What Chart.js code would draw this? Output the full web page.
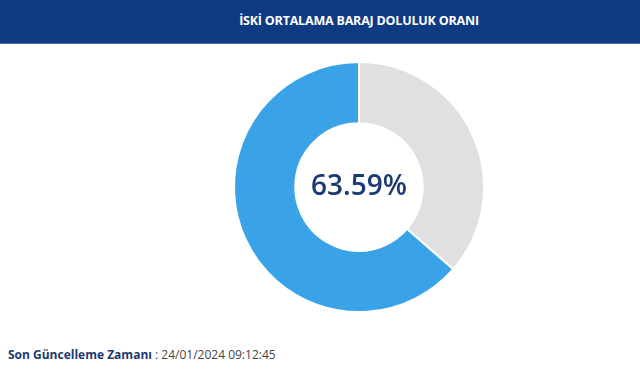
<meta charset="UTF-8">
<style>
  body { margin: 0; width: 640px; height: 380px; background: #fff; font-family: "Open Sans", "Noto Sans", sans-serif; overflow: hidden; }
  .header { position: absolute; left: 0; top: 0; width: 640px; height: 44px; background: #0f3b82; border-bottom: 1px solid #4a6aa0; box-sizing: border-box; }
  .header span { position: absolute; left: 0; width: 718px; top: 12px; text-align: center; color: #fff; font-weight: 700; font-size: 12.5px; letter-spacing: -0.2px; }
  .chart-box { position: absolute; left: 0; top: 44px; width: 640px; height: 286px; }
  .footer { position: absolute; left: 8px; top: 346px; font-size: 12px; color: #444; }
  .footer b { color: #1b3a6e; }
</style>

<div class="header"><span>İSKİ ORTALAMA BARAJ DOLULUK ORANI</span></div>
<div class="chart-box">
  <canvas id="myChart"></canvas>
</div>
<div class="footer"><b>Son Güncelleme Zamanı</b> : 24/01/2024 09:12:45</div>

<script src="https://cdn.jsdelivr.net/npm/chart.js@4.3.0/dist/chart.umd.min.js"></script>

<script>
  const labels = ['Boş', 'Dolu'];
  const values = [36.41, 63.59];
  const colors = ['#e0e0e0', '#3aa3e8'];
  const centerLabel = '63.59%';

  // draws the percentage in the middle of the ring
  const centerText = {
    id: 'centerText',
    afterDraw(chart) {
      const meta = chart.getDatasetMeta(0).data[0];
      const c = chart.ctx;
      c.save();
      c.font = '600 28px "Open Sans", sans-serif';
      c.fillStyle = '#1b3a75';
      c.textAlign = 'center';
      c.textBaseline = 'middle';
      c.fillText(centerLabel, meta.x, meta.y);
      c.restore();
    }
  };

  new Chart(document.getElementById('myChart'), {
    type: 'doughnut',
    data: {
      labels: labels,
      datasets: [{
        data: values,
        backgroundColor: colors,
        borderColor: '#ffffff',
        borderWidth: 2,
        hoverOffset: 0,
      }]
    },
    options: {
      responsive: true,
      maintainAspectRatio: false,
      animation: false,
      cutout: '51%',
      layout: { padding: { left: 78, top: 17, bottom: 17 } },
      plugins: {
        legend: { display: false },
        tooltip: { enabled: false },
      }
    },
    plugins: [centerText]
  });
</script>
